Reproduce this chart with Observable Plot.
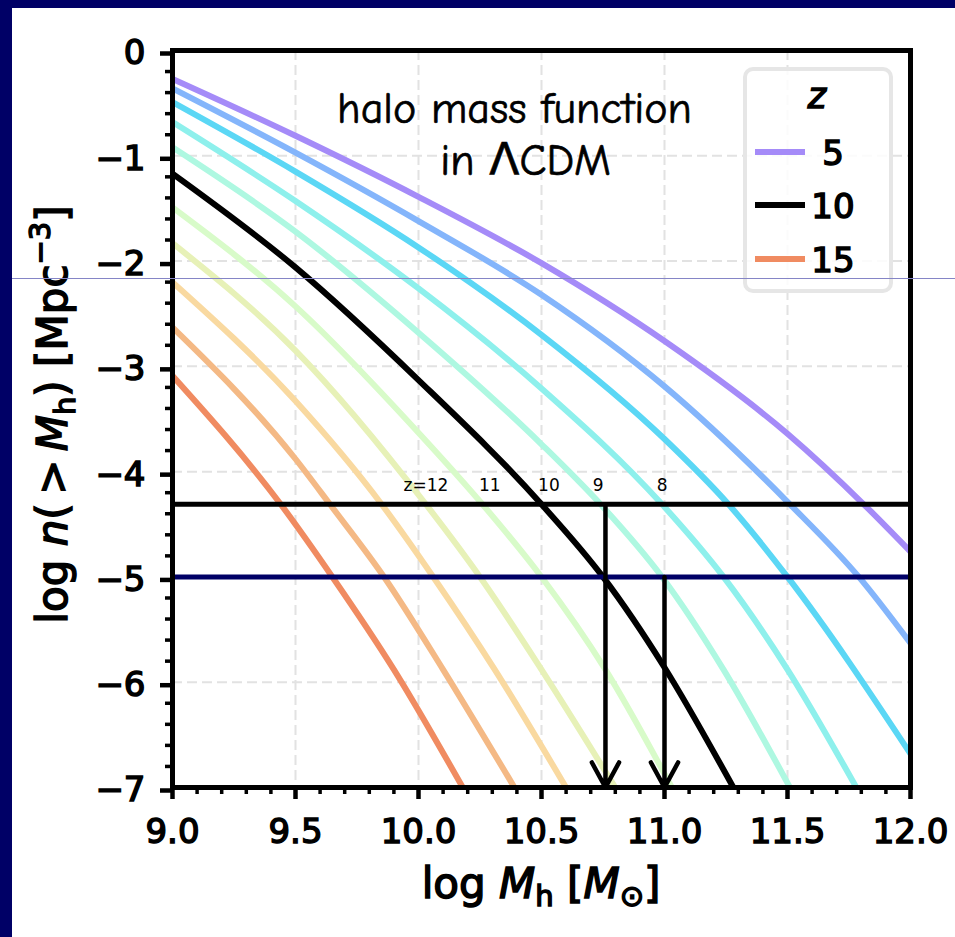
<!DOCTYPE html>
<html>
<head>
<meta charset="utf-8">
<script src="https://cdn.jsdelivr.net/npm/d3@7"></script>
<script src="https://cdn.jsdelivr.net/npm/@observablehq/plot@0.6"></script>
<style>
  html, body { margin:0; padding:0; width:955px; height:937px; background:#000066; overflow:hidden; }
  #card { position:absolute; left:12px; top:8px; width:943px; height:929px; background:#ffffff; }
  #chart { position:absolute; left:0; top:0; width:955px; height:937px; }
  #scanline { position:absolute; left:12px; top:278px; width:943px; height:1px; background:#8585c6; }
  #chart svg [aria-label$="tick label"] { stroke:#000; stroke-width:1.5px; }
  .boldish { stroke:#000; stroke-width:1.5px; }
  .titletext { stroke:#000; stroke-width:0.7px; }
</style>
</head>
<body>
<div id="card"></div>
<div id="chart"></div>
<div id="scanline"></div>
<script>
// ---------------- data ----------------
const redshifts   = [5, 6, 7, 8, 9, 10, 11, 12, 13, 14, 15];
const curveColors = ["#a58bf8", "#84b5fb", "#5bd7f5", "#8ef0ec", "#aef8e1", "#000000",
                     "#d8fbc9", "#e7f1b7", "#f9d9a0", "#f4b985", "#f08b61"];

// log M_h [M_sun] and log n(>M_h) [Mpc^-3], one pair per redshift
const logM_z5  = [9.0, 9.5, 10.0, 10.5, 11.0, 11.5, 11.81, 12.0];
const logN_z5  = [-0.27, -0.81, -1.39, -2.02, -2.76, -3.64, -4.31, -4.76];
const logM_z6  = [9.0, 9.5, 10.0, 10.5, 11.0, 11.51, 11.79, 12.0];
const logN_z6  = [-0.36, -0.97, -1.62, -2.32, -3.19, -4.31, -5.0, -5.63];
const logM_z7  = [9.0, 9.5, 10.0, 10.5, 11.0, 11.26, 11.5, 12.0];
const logN_z7  = [-0.49, -1.15, -1.87, -2.70, -3.69, -4.31, -5.0, -6.68];
const logM_z8  = [9.0, 9.5, 10.0, 10.5, 10.99, 11.24, 11.5, 11.78];
const logN_z8  = [-0.68, -1.43, -2.26, -3.21, -4.31, -5.0, -5.88, -7.0];
const logM_z9  = [9.0, 9.5, 10.0, 10.5, 10.74, 10.99, 11.24, 11.51];
const logN_z9  = [-0.92, -1.72, -2.68, -3.74, -4.31, -5.0, -5.88, -7.0];
const logM_z10 = [9.0, 9.5, 10.0, 10.5, 10.75, 11.0, 11.28];
const logN_z10 = [-1.17, -2.06, -3.13, -4.31, -5.0, -5.86, -7.0];
const logM_z11 = [9.0, 9.5, 10.0, 10.26, 10.5, 10.76, 11.03];
const logN_z11 = [-1.49, -2.43, -3.63, -4.31, -5.0, -5.88, -7.0];
const logM_z12 = [9.0, 9.5, 10.03, 10.25, 10.5, 10.8];
const logN_z12 = [-1.83, -2.85, -4.31, -5.0, -5.88, -7.0];
const logM_z13 = [9.0, 9.5, 9.85, 10.06, 10.31, 10.6];
const logN_z13 = [-2.2, -3.33, -4.31, -5.0, -5.88, -7.0];
const logM_z14 = [9.0, 9.5, 9.64, 9.86, 10.1, 10.39];
const logN_z14 = [-2.63, -3.88, -4.31, -5.0, -5.88, -7.0];
const logM_z15 = [9.0, 9.44, 9.65, 9.9, 10.18];
const logN_z15 = [-3.09, -4.31, -5.0, -5.88, -7.0];

const thresholdBlack = -4.31;   // horizontal black line
const thresholdNavy  = -5.0;    // horizontal navy line
const arrowX     = [10.76, 11.0];
const arrowStart = [-4.31, -5.0];
const arrowEnd   = [-7, -7];

const zLabelText = ["z=12", "11", "10", "9", "8"];
const zLabelX    = [10.03, 10.29, 10.53, 10.73, 10.99];
const zLabelY    = -4.13;

const titleLines = ["halo mass function", "in \u039BCDM"];
const titleX     = [10.39, 10.435];
const titleY     = [-0.55, -1.05];

const xMajorTicks = [9.0, 9.5, 10.0, 10.5, 11.0, 11.5, 12.0];
const xMinorTicks = [9.1,9.2,9.3,9.4, 9.6,9.7,9.8,9.9, 10.1,10.2,10.3,10.4, 10.6,10.7,10.8,10.9,
                     11.1,11.2,11.3,11.4, 11.6,11.7,11.8,11.9];
const yMajorTicks = [-7, -6, -5, -4, -3, -2, -1, 0];
const yMinorTicks = [-6.8,-6.6,-6.4,-6.2, -5.8,-5.6,-5.4,-5.2, -4.8,-4.6,-4.4,-4.2, -3.8,-3.6,-3.4,-3.2,
                     -2.8,-2.6,-2.4,-2.2, -1.8,-1.6,-1.4,-1.2, -0.8,-0.6,-0.4,-0.2];

const legendZ = [5, 10, 15];

// ---------------- build ----------------
const curveM = [logM_z5, logM_z6, logM_z7, logM_z8, logM_z9, logM_z10, logM_z11, logM_z12, logM_z13, logM_z14, logM_z15];
const curveN = [logN_z5, logN_z6, logN_z7, logN_z8, logN_z9, logN_z10, logN_z11, logN_z12, logN_z13, logN_z14, logN_z15];
const rows = redshifts.flatMap((z, k) => curveM[k].map((m, i) => ({z, m, n: curveN[k][i]})));
const arrows = arrowX.map((x, i) => ({x, y1: arrowStart[i], y2: arrowEnd[i]}));
const zLabels = zLabelText.map((t, i) => ({t, x: zLabelX[i], y: zLabelY}));
const titles = titleLines.map((t, i) => ({t, x: titleX[i], y: titleY[i]}));

const gridStyle = {stroke: "#e2e2e2", strokeOpacity: 1, strokeWidth: 2, strokeDasharray: "10,5"};
const minusFmt = d => d === 0 ? "0" : "\u2212" + Math.abs(d);

const chart = Plot.plot({
  width: 955, height: 937,
  marginLeft: 172, marginRight: 45, marginTop: 50, marginBottom: 150,
  x: {domain: [9, 12]},
  y: {domain: [-7, 0]},
  color: {type: "ordinal", domain: redshifts, range: curveColors},
  style: {background: "transparent", fontFamily: "'DejaVu Sans', sans-serif", color: "#000", overflow: "visible"},
  marks: [
    Plot.gridX(xMajorTicks, gridStyle),
    Plot.gridY(yMajorTicks, gridStyle),
    Plot.line(rows, {x: "m", y: "n", z: "z", stroke: "z", strokeWidth: 6, curve: "monotone-x", clip: true}),
    Plot.ruleY([thresholdBlack], {stroke: "#000", strokeWidth: 5}),
    Plot.ruleY([thresholdNavy], {stroke: "#000066", strokeWidth: 5}),
    Plot.arrow(arrows, {x1: "x", x2: "x", y1: "y1", y2: "y2", stroke: "#000", strokeWidth: 4.5, headLength: 9.5, headAngle: 57}),
    Plot.text(zLabels, {x: "x", y: "y", text: "t", fontSize: 17, fill: "#000"}),
    Plot.text(titles, {x: "x", y: "y", text: "t", fontSize: 44, fill: "#000", className: "titletext",
      fontFamily: "'Comic Sans MS', 'Comic Neue', 'DejaVu Sans', sans-serif"}),
    Plot.axisX(xMinorTicks, {tickSize: 7, strokeWidth: 3.5, tickFormat: () => "", label: null}),
    Plot.axisY(yMinorTicks, {tickSize: 7, strokeWidth: 3.5, tickFormat: () => "", label: null}),
    Plot.axisX(xMajorTicks, {tickSize: 12, tickPadding: 19, strokeWidth: 4.5, fontSize: 34,
      tickFormat: d3.format(".1f"), label: null}),
    Plot.axisY(yMajorTicks, {tickSize: 12, tickPadding: 15, strokeWidth: 4.5, fontSize: 34, dy: 3,
      tickFormat: minusFmt, label: null}),
    Plot.frame({stroke: "#000", strokeWidth: 5})
  ]
});
document.getElementById("chart").appendChild(chart);

// ---------------- labels & legend ----------------
const sx = chart.scale("x"), sy = chart.scale("y");
const svg = d3.select(chart);
const xMid = (sx.apply(9) + sx.apply(12)) / 2;
const yMid = (sy.apply(-7) + sy.apply(0)) / 2;

// x-axis label: log M_h [M_⊙]
const xl = svg.append("text").attr("class", "boldish")
  .attr("x", xMid).attr("y", 898).attr("text-anchor", "middle")
  .attr("font-size", 42).attr("font-family", "'DejaVu Sans', sans-serif").attr("fill", "#000");
xl.append("tspan").text("log ");
xl.append("tspan").attr("font-style", "italic").text("M");
xl.append("tspan").attr("font-size", 29).attr("dy", 8).text("h");
xl.append("tspan").attr("dy", -8).text(" [");
xl.append("tspan").attr("font-style", "italic").text("M");
xl.append("tspan").attr("font-size", 29).attr("dy", 8).text("\u2299");
xl.append("tspan").attr("dy", -8).text("]");

// y-axis label: log n(> M_h) [Mpc^-3]
const yl = svg.append("text").attr("class", "boldish")
  .attr("transform", `translate(67,${yMid - 4}) rotate(-90)`).attr("text-anchor", "middle")
  .attr("font-size", 42).attr("font-family", "'DejaVu Sans', sans-serif").attr("fill", "#000");
yl.append("tspan").text("log ");
yl.append("tspan").attr("font-style", "italic").text("n");
yl.append("tspan").text("(\u2009>\u2009");
yl.append("tspan").attr("font-style", "italic").text("M");
yl.append("tspan").attr("font-size", 29).attr("dy", 8).text("h");
yl.append("tspan").attr("dy", -8).text(") [Mpc");
yl.append("tspan").attr("font-size", 29).attr("dy", -17).text("\u22123");
yl.append("tspan").attr("dy", 17).text("]");

// legend
const lg = svg.append("g").attr("font-family", "'DejaVu Sans', sans-serif");
lg.append("rect").attr("x", 745).attr("y", 69).attr("width", 146).attr("height", 222).attr("rx", 8)
  .attr("fill", "#fff").attr("fill-opacity", 0.85).attr("stroke", "#e6e6e6").attr("stroke-width", 4);
lg.append("text").attr("class", "boldish").attr("x", 817).attr("y", 108).attr("text-anchor", "middle")
  .attr("font-size", 35).attr("font-style", "italic").attr("fill", "#000").text("z");
const legendRowY = [152, 205, 259];
legendZ.forEach((z, i) => {
  const col = curveColors[redshifts.indexOf(z)];
  lg.append("line").attr("x1", 755).attr("x2", 805).attr("y1", legendRowY[i]).attr("y2", legendRowY[i])
    .attr("stroke", col).attr("stroke-width", 6);
  lg.append("text").attr("class", "boldish").attr("x", 833).attr("y", legendRowY[i] + 12.5)
    .attr("font-size", 34).attr("fill", "#000").text(String(z));
});
</script>
</body>
</html>
